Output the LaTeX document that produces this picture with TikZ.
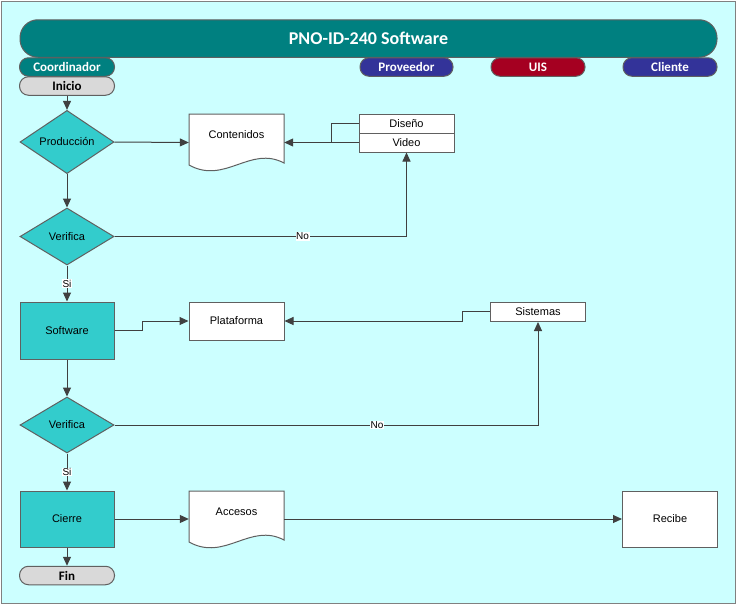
\documentclass[tikz,border=0pt]{standalone}
\usepackage{fontspec}
\setmainfont{Liberation Sans}
\newfontfamily\hdfont{Carlito}
\usetikzlibrary{shapes.geometric,arrows.meta}
\definecolor{bgc}{HTML}{CCFFFF}
\definecolor{tealc}{HTML}{008080}
\definecolor{turq}{HTML}{33CCCC}
\definecolor{navyc}{HTML}{333399}
\definecolor{redc}{HTML}{A50021}
\definecolor{grayf}{HTML}{D9D9D9}
\definecolor{bordc}{HTML}{606060}
\definecolor{linec}{HTML}{404040}
\begin{document}
\begin{tikzpicture}[x=1pt,y=-1pt,
  every node/.style={font=\fontsize{11}{13}\selectfont, inner sep=0pt},
  lane/.style={draw=bordc, line width=1pt, rounded corners=9pt, minimum width=95pt, minimum height=18.5pt,
    font=\hdfont\bfseries\fontsize{13}{15}\selectfont, text=white},
  proc/.style={draw=bordc, line width=1pt, fill=turq, minimum width=94pt, minimum height=57pt},
  dec/.style={diamond, draw=bordc, line width=1pt, fill=turq, minimum width=94pt, minimum height=57pt},
  wbox/.style={draw=bordc, line width=1pt, fill=white, minimum width=95pt},
  anchorbox/.style={minimum width=95pt, minimum height=57pt},
  docshape/.style={draw=bordc, line width=1pt, fill=white},
  conn/.style={draw=linec, line width=1pt, -{Triangle[length=9pt,width=8pt]}},
  plainline/.style={draw=linec, line width=1pt},
  lbl/.style={fill=white, font=\fontsize{10}{12}\selectfont, inner sep=0.6pt},
]
\useasboundingbox (0,0) rectangle (737,605);
\fill[white] (0,0) rectangle (737,605);
\draw[fill=bgc, draw=gray, line width=1.2pt] (1.5,1.5) rectangle (735.5,603.5);

% title and lanes
\node[draw=bordc, line width=1pt, fill=tealc, rounded corners=18pt, minimum width=697pt, minimum height=37.5pt,
  text=white, font=\hdfont\bfseries\fontsize{18}{20}\selectfont] (title) at (368.5,38.5) {PNO-ID-240 Software};
\node[lane, fill=tealc] (coord) at (67,67) {Coordinador};
\node[lane, fill=navyc, minimum width=93pt] (prov) at (406.5,67) {Proveedor};
\node[lane, fill=redc, minimum width=94pt] (uis) at (538,67) {UIS};
\node[lane, fill=navyc, minimum width=94pt] (cli) at (670,67) {Cliente};
\node[lane, fill=grayf, text=black] (ini) at (67,86) {Inicio};

% row 1
\node[dec] (prod) at (67,142) {Producción};
\node[dec] (ver1) at (67,236.5) {Verifica};
\draw[docshape] (189,114) -- (284,114) -- (284,163) .. controls (250,145) and (225,185) .. (189,165) -- cycle;
\node[anchorbox] (cont) at (236.5,142.5) {};
\node (contt) at (236.5,135) {Contenidos};
\node[wbox, minimum height=19pt] (dis) at (406.5,123.5) {Diseño};
\node[wbox, minimum height=19pt] (vid) at (406.5,142.5) {Video};
\coordinate (j) at (331,142.5);

% row 2
\node[proc] (sw) at (67,330.5) {Software};
\node[wbox, minimum height=38pt] (plat) at (236.5,321) {Plataforma};
\node[wbox, minimum height=19.5pt] (sis) at (538,311.75) {Sistemas};
\node[dec, minimum height=56pt] (ver2) at (67,425) {Verifica};

% row 3
\node[proc, minimum height=56pt] (cie) at (67,519) {Cierre};
\draw[docshape] (189,491) -- (284,491) -- (284,540) .. controls (250,522) and (225,562) .. (189,542) -- cycle;
\node[anchorbox, minimum height=56pt] (acc) at (236.5,519) {};
\node (acct) at (236.5,512) {Accesos};
\node[wbox, minimum height=56pt] (rec) at (670,519) {Recibe};
\node[lane, fill=grayf, text=black] (fin) at (67,575.5) {Fin};

% connectors
\draw[conn] (ini.south) -- (prod.north);
\draw[conn] (prod.east) -- (cont.west);
\draw[conn] (vid.west) -- (cont.east);
\draw[plainline] (dis.west) -| (j);
\draw[conn] (prod.south) -- (ver1.north);
\draw[conn] (ver1.east) -| node[lbl, pos=0.322] {No} (vid.south);
\draw[conn] (ver1.south) -- node[lbl] {Si} (sw.north);
\draw[conn] (sw.east) -- ++(28,0) |- (plat.west);
\draw[conn] (sis.west) -- ++(-28,0) |- (plat.east);
\draw[conn] (sw.south) -- (ver2.north);
\draw[conn] (ver2.east) -| node[lbl, pos=0.31] {No} (sis.south);
\draw[conn] (ver2.south) -- node[lbl] {Si} (cie.north);
\draw[conn] (cie.east) -- (acc.west);
\draw[conn] (acc.east) -- (rec.west);
\draw[conn] (cie.south) -- (fin.north);
\end{tikzpicture}
\end{document}
